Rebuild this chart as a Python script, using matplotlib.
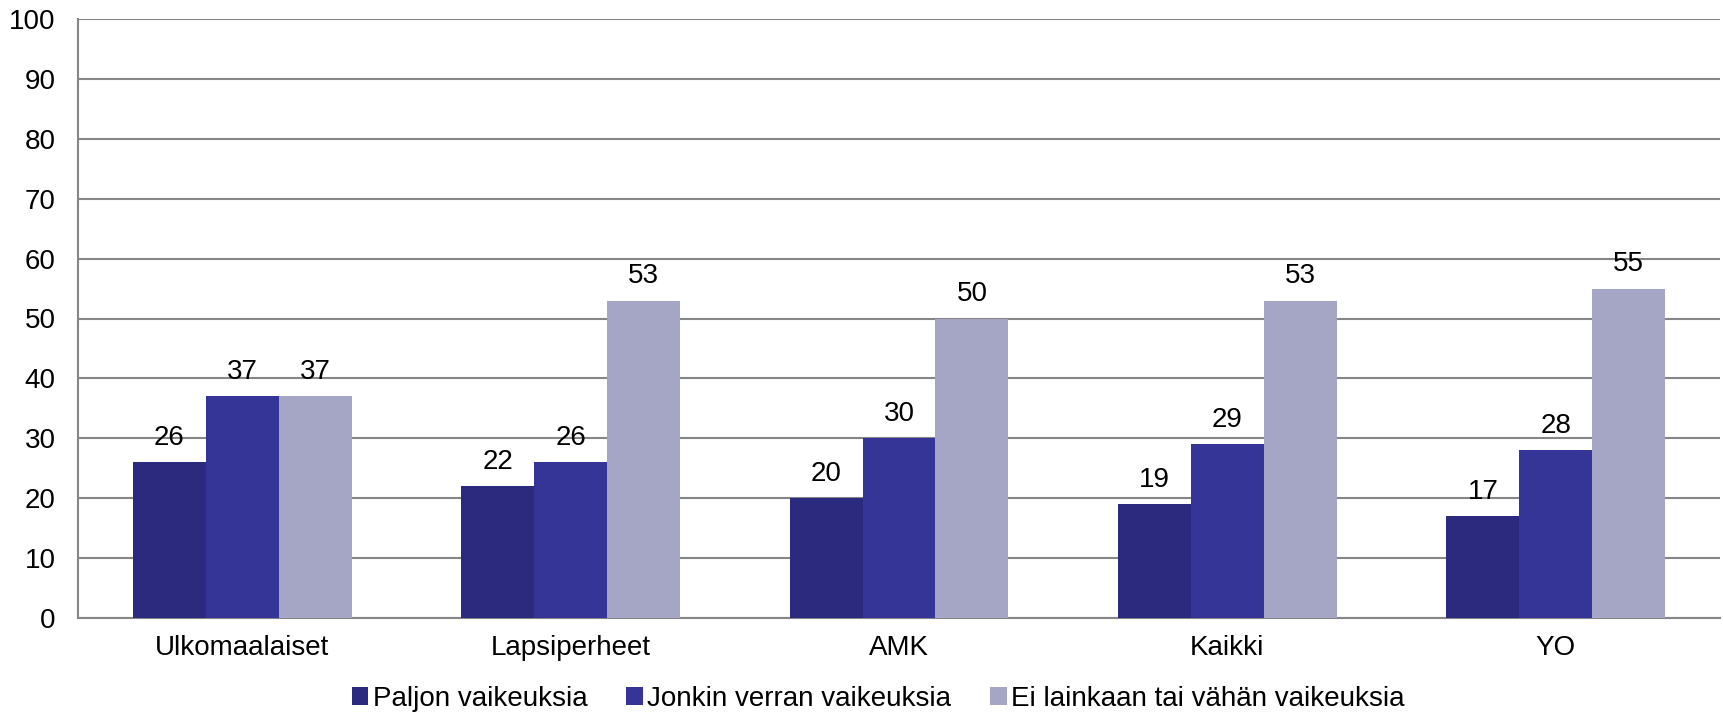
import matplotlib as mpl
mpl.use("Agg")
import matplotlib.pyplot as plt
import numpy as np

plt.rcParams['font.family'] = ['Liberation Sans', 'DejaVu Sans']

categories = ["Ulkomaalaiset", "Lapsiperheet", "AMK", "Kaikki", "YO"]
series_names = ["Paljon vaikeuksia", "Jonkin verran vaikeuksia",
                "Ei lainkaan tai vähän vaikeuksia"]
paljon = [26, 22, 20, 19, 17]
jonkin = [37, 26, 30, 29, 28]
ei_lainkaan = [37, 53, 50, 53, 55]
colors = ['#2b2a7e', '#353598', '#a5a6c6']

fig = plt.figure(figsize=(17.23, 7.18), dpi=100)
ax = fig.add_axes([78/1723, 1-618/718, (1720-78)/1723, (618-19)/718])

x = np.arange(len(categories))
w = 0.222
for i, (vals, name) in enumerate(zip([paljon, jonkin, ei_lainkaan], series_names)):
    bars = ax.bar(x + (i-1)*w, vals, w, color=colors[i], label=name, zorder=3)
    for b, v in zip(bars, vals):
        ax.annotate(str(v), (b.get_x()+b.get_width()/2, v), xytext=(0, 8),
                    textcoords='offset points', ha='center', va='bottom',
                    fontsize=20, zorder=4)

ax.set_xlim(-0.5, len(categories)-0.5)
ax.set_ylim(0, 100)
ax.set_yticks(range(0, 101, 10))
ax.set_xticks(x)
ax.set_xticklabels(categories)
ax.tick_params(axis='both', length=0, labelsize=20)
ax.tick_params(axis='x', pad=12)
ax.tick_params(axis='y', pad=16)
ax.yaxis.grid(True, color='#868686', linewidth=1.5, zorder=0)
for s in ['top', 'right']:
    ax.spines[s].set_visible(False)
for s in ['left', 'bottom']:
    ax.spines[s].set_color('#868686')
    ax.spines[s].set_linewidth(1.5)

fig.legend(loc='center', bbox_to_anchor=(878/1723, 1-699/718), ncol=3,
           frameon=False, fontsize=20, handlelength=0.6, handleheight=0.6,
           handletextpad=0.15, columnspacing=1.4)

plt.savefig("out.png", dpi=100)
